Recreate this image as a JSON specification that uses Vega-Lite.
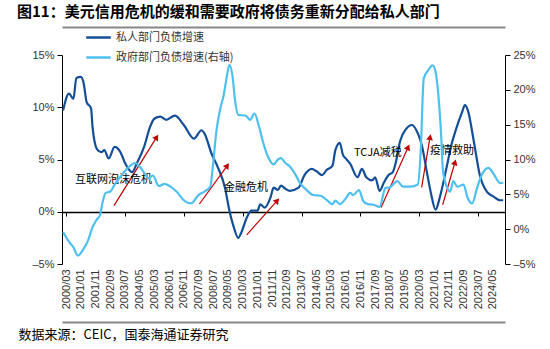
{
  "$schema": "https://vega.github.io/schema/vega-lite/v6.json",
  "width": 443,
  "height": 209,
  "autosize": {"type": "none"},
  "padding": {"left": 62, "top": 55, "right": 45, "bottom": 85},
  "background": "white",
  "title": {
    "text": "图11：美元信用危机的缓和需要政府将债务重新分配给私人部门",
    "anchor": "start",
    "frame": "group",
    "font": "Noto Sans CJK SC",
    "fontSize": 15,
    "fontWeight": "bold",
    "color": "#000000",
    "dx": -45,
    "offset": 4
  },
  "config": {
    "view": {"stroke": null},
    "axis": {
      "labelFont": "Liberation Sans",
      "labelFontSize": 11,
      "labelColor": "#333333",
      "grid": false,
      "domainColor": "#000000",
      "tickColor": "#000000",
      "labelOverlap": false
    }
  },
  "datasets": {
    "series": [
      {"d": "2000/01/01", "s": "私人部门负债增速", "v": 9.7},
      {"d": "2000/05/01", "s": "私人部门负债增速", "v": 11.3},
      {"d": "2000/08/01", "s": "私人部门负债增速", "v": 10.8},
      {"d": "2000/10/01", "s": "私人部门负债增速", "v": 12.8},
      {"d": "2001/01/01", "s": "私人部门负债增速", "v": 12.9},
      {"d": "2001/03/01", "s": "私人部门负债增速", "v": 12.3},
      {"d": "2001/05/01", "s": "私人部门负债增速", "v": 10.5},
      {"d": "2001/08/01", "s": "私人部门负债增速", "v": 9.9},
      {"d": "2001/09/01", "s": "私人部门负债增速", "v": 8.1},
      {"d": "2001/12/01", "s": "私人部门负债增速", "v": 6.0},
      {"d": "2002/03/01", "s": "私人部门负债增速", "v": 5.7},
      {"d": "2002/05/01", "s": "私人部门负债增速", "v": 5.9},
      {"d": "2002/08/01", "s": "私人部门负债增速", "v": 5.1},
      {"d": "2002/12/01", "s": "私人部门负债增速", "v": 6.2},
      {"d": "2003/04/01", "s": "私人部门负债增速", "v": 5.7},
      {"d": "2003/07/01", "s": "私人部门负债增速", "v": 4.7},
      {"d": "2003/12/01", "s": "私人部门负债增速", "v": 3.8},
      {"d": "2004/03/01", "s": "私人部门负债增速", "v": 4.6},
      {"d": "2004/08/01", "s": "私人部门负债增速", "v": 6.2},
      {"d": "2004/12/01", "s": "私人部门负债增速", "v": 8.1},
      {"d": "2005/03/01", "s": "私人部门负债增速", "v": 8.9},
      {"d": "2005/07/01", "s": "私人部门负债增速", "v": 9.1},
      {"d": "2005/11/01", "s": "私人部门负债增速", "v": 8.8},
      {"d": "2006/05/01", "s": "私人部门负债增速", "v": 9.2},
      {"d": "2006/11/01", "s": "私人部门负债增速", "v": 8.3},
      {"d": "2007/06/01", "s": "私人部门负债增速", "v": 7.0},
      {"d": "2007/11/01", "s": "私人部门负债增速", "v": 7.8},
      {"d": "2008/01/01", "s": "私人部门负债增速", "v": 7.5},
      {"d": "2008/06/01", "s": "私人部门负债增速", "v": 5.5},
      {"d": "2008/10/01", "s": "私人部门负债增速", "v": 4.3},
      {"d": "2009/03/01", "s": "私人部门负债增速", "v": 2.3},
      {"d": "2009/06/01", "s": "私人部门负债增速", "v": 0.1},
      {"d": "2009/09/01", "s": "私人部门负债增速", "v": -1.5},
      {"d": "2009/12/01", "s": "私人部门负债增速", "v": -2.5},
      {"d": "2010/02/01", "s": "私人部门负债增速", "v": -2.0},
      {"d": "2010/06/01", "s": "私人部门负债增速", "v": -0.5},
      {"d": "2010/09/01", "s": "私人部门负债增速", "v": 0.1},
      {"d": "2011/01/01", "s": "私人部门负债增速", "v": 0.1},
      {"d": "2011/03/01", "s": "私人部门负债增速", "v": 0.7},
      {"d": "2011/06/01", "s": "私人部门负债增速", "v": 0.4},
      {"d": "2011/10/01", "s": "私人部门负债增速", "v": 1.4},
      {"d": "2011/12/01", "s": "私人部门负债增速", "v": 2.3},
      {"d": "2012/03/01", "s": "私人部门负债增速", "v": 2.1},
      {"d": "2012/05/01", "s": "私人部门负债增速", "v": 2.5},
      {"d": "2012/08/01", "s": "私人部门负债增速", "v": 2.2},
      {"d": "2012/11/01", "s": "私人部门负债增速", "v": 2.0},
      {"d": "2013/05/01", "s": "私人部门负债增速", "v": 2.3},
      {"d": "2013/09/01", "s": "私人部门负债增速", "v": 3.5},
      {"d": "2014/02/01", "s": "私人部门负债增速", "v": 4.1},
      {"d": "2014/05/01", "s": "私人部门负债增速", "v": 3.9},
      {"d": "2014/09/01", "s": "私人部门负债增速", "v": 3.5},
      {"d": "2014/12/01", "s": "私人部门负债增速", "v": 4.0},
      {"d": "2015/04/01", "s": "私人部门负债增速", "v": 4.4},
      {"d": "2015/06/01", "s": "私人部门负债增速", "v": 5.9},
      {"d": "2015/09/01", "s": "私人部门负债增速", "v": 6.6},
      {"d": "2015/11/01", "s": "私人部门负债增速", "v": 5.5},
      {"d": "2016/01/01", "s": "私人部门负债增速", "v": 5.1},
      {"d": "2016/04/01", "s": "私人部门负债增速", "v": 4.6},
      {"d": "2016/09/01", "s": "私人部门负债增速", "v": 3.3},
      {"d": "2016/12/01", "s": "私人部门负债增速", "v": 4.1},
      {"d": "2017/03/01", "s": "私人部门负债增速", "v": 3.3},
      {"d": "2017/07/01", "s": "私人部门负债增速", "v": 3.0},
      {"d": "2017/09/01", "s": "私人部门负债增速", "v": 3.3},
      {"d": "2017/12/01", "s": "私人部门负债增速", "v": 2.0},
      {"d": "2018/03/01", "s": "私人部门负债增速", "v": 2.8},
      {"d": "2018/06/01", "s": "私人部门负债增速", "v": 3.5},
      {"d": "2018/09/01", "s": "私人部门负债增速", "v": 3.8},
      {"d": "2018/11/01", "s": "私人部门负债增速", "v": 4.7},
      {"d": "2019/02/01", "s": "私人部门负债增速", "v": 6.8},
      {"d": "2019/06/01", "s": "私人部门负债增速", "v": 7.9},
      {"d": "2019/10/01", "s": "私人部门负债增速", "v": 8.3},
      {"d": "2020/01/01", "s": "私人部门负债增速", "v": 7.8},
      {"d": "2020/05/01", "s": "私人部门负债增速", "v": 6.2},
      {"d": "2020/08/01", "s": "私人部门负债增速", "v": 3.9},
      {"d": "2020/11/01", "s": "私人部门负债增速", "v": 1.7},
      {"d": "2021/02/01", "s": "私人部门负债增速", "v": 0.2},
      {"d": "2021/05/01", "s": "私人部门负债增速", "v": 1.4},
      {"d": "2021/09/01", "s": "私人部门负债增速", "v": 3.9},
      {"d": "2022/01/01", "s": "私人部门负债增速", "v": 6.5},
      {"d": "2022/04/01", "s": "私人部门负债增速", "v": 7.9},
      {"d": "2022/08/01", "s": "私人部门负债增速", "v": 9.5},
      {"d": "2022/10/01", "s": "私人部门负债增速", "v": 10.2},
      {"d": "2022/12/01", "s": "私人部门负债增速", "v": 9.7},
      {"d": "2023/04/01", "s": "私人部门负债增速", "v": 6.8},
      {"d": "2023/08/01", "s": "私人部门负债增速", "v": 3.6},
      {"d": "2024/01/01", "s": "私人部门负债增速", "v": 1.9},
      {"d": "2024/05/01", "s": "私人部门负债增速", "v": 1.5},
      {"d": "2024/10/01", "s": "私人部门负债增速", "v": 1.1},
      {"d": "2024/12/01", "s": "私人部门负债增速", "v": 1.1},
      {"d": "2000/01/01", "s": "政府部门负债增速(右轴)", "v": -0.4},
      {"d": "2000/05/01", "s": "政府部门负债增速(右轴)", "v": -1.8},
      {"d": "2000/08/01", "s": "政府部门负债增速(右轴)", "v": -2.6},
      {"d": "2000/11/01", "s": "政府部门负债增速(右轴)", "v": -3.8},
      {"d": "2001/03/01", "s": "政府部门负债增速(右轴)", "v": -2.8},
      {"d": "2001/06/01", "s": "政府部门负债增速(右轴)", "v": -1.6},
      {"d": "2001/09/01", "s": "政府部门负债增速(右轴)", "v": 0.3},
      {"d": "2001/12/01", "s": "政府部门负债增速(右轴)", "v": 1.4},
      {"d": "2002/02/01", "s": "政府部门负债增速(右轴)", "v": 2.0},
      {"d": "2002/04/01", "s": "政府部门负债增速(右轴)", "v": 4.0},
      {"d": "2002/06/01", "s": "政府部门负债增速(右轴)", "v": 5.2},
      {"d": "2002/09/01", "s": "政府部门负债增速(右轴)", "v": 5.4},
      {"d": "2002/12/01", "s": "政府部门负债增速(右轴)", "v": 6.4},
      {"d": "2003/05/01", "s": "政府部门负债增速(右轴)", "v": 7.8},
      {"d": "2003/09/01", "s": "政府部门负债增速(右轴)", "v": 8.8},
      {"d": "2004/02/01", "s": "政府部门负债增速(右轴)", "v": 9.5},
      {"d": "2004/05/01", "s": "政府部门负债增速(右轴)", "v": 9.0},
      {"d": "2004/09/01", "s": "政府部门负债增速(右轴)", "v": 7.8},
      {"d": "2004/11/01", "s": "政府部门负债增速(右轴)", "v": 7.3},
      {"d": "2005/02/01", "s": "政府部门负债增速(右轴)", "v": 7.7},
      {"d": "2005/06/01", "s": "政府部门负债增速(右轴)", "v": 6.2},
      {"d": "2005/10/01", "s": "政府部门负债增速(右轴)", "v": 6.5},
      {"d": "2006/02/01", "s": "政府部门负债增速(右轴)", "v": 6.1},
      {"d": "2006/06/01", "s": "政府部门负债增速(右轴)", "v": 5.4},
      {"d": "2006/12/01", "s": "政府部门负债增速(右轴)", "v": 4.0},
      {"d": "2007/04/01", "s": "政府部门负债增速(右轴)", "v": 3.7},
      {"d": "2007/09/01", "s": "政府部门负债增速(右轴)", "v": 4.9},
      {"d": "2008/01/01", "s": "政府部门负债增速(右轴)", "v": 5.4},
      {"d": "2008/05/01", "s": "政府部门负债增速(右轴)", "v": 6.1},
      {"d": "2008/07/01", "s": "政府部门负债增速(右轴)", "v": 9.5},
      {"d": "2008/09/01", "s": "政府部门负债增速(右轴)", "v": 13.9},
      {"d": "2008/12/01", "s": "政府部门负债增速(右轴)", "v": 17.5},
      {"d": "2009/02/01", "s": "政府部门负债增速(右轴)", "v": 19.2},
      {"d": "2009/04/01", "s": "政府部门负债增速(右轴)", "v": 21.6},
      {"d": "2009/06/01", "s": "政府部门负债增速(右轴)", "v": 23.6},
      {"d": "2009/08/01", "s": "政府部门负债增速(右轴)", "v": 22.1},
      {"d": "2009/10/01", "s": "政府部门负债增速(右轴)", "v": 18.2},
      {"d": "2009/12/01", "s": "政府部门负债增速(右轴)", "v": 16.4},
      {"d": "2010/05/01", "s": "政府部门负债增速(右轴)", "v": 16.3},
      {"d": "2010/08/01", "s": "政府部门负债增速(右轴)", "v": 15.7},
      {"d": "2010/11/01", "s": "政府部门负债增速(右轴)", "v": 16.6},
      {"d": "2011/02/01", "s": "政府部门负债增速(右轴)", "v": 14.8},
      {"d": "2011/05/01", "s": "政府部门负债增速(右轴)", "v": 12.4},
      {"d": "2011/08/01", "s": "政府部门负债增速(右轴)", "v": 10.5},
      {"d": "2011/12/01", "s": "政府部门负债增速(右轴)", "v": 9.3},
      {"d": "2012/03/01", "s": "政府部门负债增速(右轴)", "v": 10.0},
      {"d": "2012/05/01", "s": "政府部门负债增速(右轴)", "v": 10.2},
      {"d": "2012/08/01", "s": "政府部门负债增速(右轴)", "v": 9.5},
      {"d": "2012/11/01", "s": "政府部门负债增速(右轴)", "v": 9.0},
      {"d": "2013/03/01", "s": "政府部门负债增速(右轴)", "v": 7.8},
      {"d": "2013/06/01", "s": "政府部门负债增速(右轴)", "v": 6.6},
      {"d": "2013/10/01", "s": "政府部门负债增速(右轴)", "v": 5.7},
      {"d": "2014/03/01", "s": "政府部门负债增速(右轴)", "v": 4.9},
      {"d": "2014/08/01", "s": "政府部门负债增速(右轴)", "v": 4.8},
      {"d": "2014/12/01", "s": "政府部门负债增速(右轴)", "v": 4.2},
      {"d": "2015/04/01", "s": "政府部门负债增速(右轴)", "v": 3.6},
      {"d": "2015/06/01", "s": "政府部门负债增速(右轴)", "v": 4.1},
      {"d": "2015/09/01", "s": "政府部门负债增速(右轴)", "v": 3.6},
      {"d": "2016/01/01", "s": "政府部门负债增速(右轴)", "v": 4.4},
      {"d": "2016/04/01", "s": "政府部门负债增速(右轴)", "v": 5.2},
      {"d": "2016/06/01", "s": "政府部门负债增速(右轴)", "v": 4.9},
      {"d": "2016/10/01", "s": "政府部门负债增速(右轴)", "v": 5.6},
      {"d": "2017/01/01", "s": "政府部门负债增速(右轴)", "v": 4.0},
      {"d": "2017/04/01", "s": "政府部门负债增速(右轴)", "v": 3.6},
      {"d": "2017/08/01", "s": "政府部门负债增速(右轴)", "v": 3.5},
      {"d": "2017/12/01", "s": "政府部门负债增速(右轴)", "v": 3.2},
      {"d": "2018/04/01", "s": "政府部门负债增速(右轴)", "v": 5.9},
      {"d": "2018/07/01", "s": "政府部门负债增速(右轴)", "v": 6.0},
      {"d": "2018/12/01", "s": "政府部门负债增速(右轴)", "v": 6.9},
      {"d": "2019/04/01", "s": "政府部门负债增速(右轴)", "v": 6.1},
      {"d": "2019/09/01", "s": "政府部门负债增速(右轴)", "v": 6.1},
      {"d": "2020/02/01", "s": "政府部门负债增速(右轴)", "v": 6.4},
      {"d": "2020/04/01", "s": "政府部门负债增速(右轴)", "v": 11.4},
      {"d": "2020/06/01", "s": "政府部门负债增速(右轴)", "v": 21.6},
      {"d": "2020/09/01", "s": "政府部门负债增速(右轴)", "v": 22.8},
      {"d": "2020/12/01", "s": "政府部门负债增速(右轴)", "v": 23.5},
      {"d": "2021/02/01", "s": "政府部门负债增速(右轴)", "v": 22.6},
      {"d": "2021/04/01", "s": "政府部门负债增速(右轴)", "v": 19.2},
      {"d": "2021/06/01", "s": "政府部门负债增速(右轴)", "v": 12.9},
      {"d": "2021/07/01", "s": "政府部门负债增速(右轴)", "v": 8.6},
      {"d": "2021/10/01", "s": "政府部门负债增速(右轴)", "v": 5.9},
      {"d": "2021/12/01", "s": "政府部门负债增速(右轴)", "v": 5.4},
      {"d": "2022/02/01", "s": "政府部门负债增速(右轴)", "v": 6.9},
      {"d": "2022/05/01", "s": "政府部门负债增速(右轴)", "v": 6.1},
      {"d": "2022/09/01", "s": "政府部门负债增速(右轴)", "v": 6.4},
      {"d": "2022/12/01", "s": "政府部门负债增速(右轴)", "v": 4.4},
      {"d": "2023/03/01", "s": "政府部门负债增速(右轴)", "v": 3.7},
      {"d": "2023/06/01", "s": "政府部门负债增速(右轴)", "v": 5.7},
      {"d": "2023/09/01", "s": "政府部门负债增速(右轴)", "v": 7.6},
      {"d": "2024/02/01", "s": "政府部门负债增速(右轴)", "v": 8.8},
      {"d": "2024/05/01", "s": "政府部门负债增速(右轴)", "v": 8.1},
      {"d": "2024/10/01", "s": "政府部门负债增速(右轴)", "v": 6.6},
      {"d": "2024/12/01", "s": "政府部门负债增速(右轴)", "v": 6.7}
    ],
    "arrows": [
      {"d": "2002/11/19", "v": 0.58, "d2": "2005/04/19", "v2": 7.14},
      {"d": "2007/09/19", "v": 0.74, "d2": "2009/04/19", "v2": 4.42},
      {"d": "2010/05/25", "v": -2.21, "d2": "2012/02/15", "v2": 1.06},
      {"d": "2018/01/01", "v": 0.41, "d2": "2019/07/15", "v2": 6.18},
      {"d": "2020/04/19", "v": 2.34, "d2": "2020/10/10", "v2": 7.14},
      {"d": "2021/06/28", "v": 0.67, "d2": "2022/03/10", "v2": 4.74}
    ],
    "notes": [
      {"d": "2000/09/03", "v": 3.0, "t": "互联网泡沫危机"},
      {"d": "2009/02/10", "v": 2.3, "t": "金融危机"},
      {"d": "2016/06/20", "v": 5.6, "t": "TCJA减税"},
      {"d": "2020/10/10", "v": 5.8, "t": "疫情救助"}
    ]
  },
  "layer": [
    {
      "layer": [
        {
          "data": {"name": "series"},
          "transform": [{"filter": "datum.s === '私人部门负债增速'"}],
          "mark": {"type": "line", "interpolate": "monotone", "strokeWidth": 2.2},
          "encoding": {
            "x": {
              "field": "d",
              "type": "temporal",
              "scale": {"domain": [{"year": 1999, "month": 12, "date": 9}, {"year": 2025, "month": 1, "date": 7}], "nice": false},
              "axis": {
                "orient": "bottom",
                "offset": -52,
                "title": null,
                "labels": false,
                "ticks": true,
                "tickSize": 4,
                "domain": true,
                "domainWidth": 1.5,
                "values": [
                  {"year": 2000, "month": 3, "date": 1}, {"year": 2001, "month": 1, "date": 1}, {"year": 2001, "month": 11, "date": 1},
                  {"year": 2002, "month": 9, "date": 1}, {"year": 2003, "month": 7, "date": 1}, {"year": 2004, "month": 5, "date": 1},
                  {"year": 2005, "month": 3, "date": 1}, {"year": 2006, "month": 1, "date": 1}, {"year": 2006, "month": 11, "date": 1},
                  {"year": 2007, "month": 9, "date": 1}, {"year": 2008, "month": 7, "date": 1}, {"year": 2009, "month": 5, "date": 1},
                  {"year": 2010, "month": 3, "date": 1}, {"year": 2011, "month": 1, "date": 1}, {"year": 2011, "month": 11, "date": 1},
                  {"year": 2012, "month": 9, "date": 1}, {"year": 2013, "month": 7, "date": 1}, {"year": 2014, "month": 5, "date": 1},
                  {"year": 2015, "month": 3, "date": 1}, {"year": 2016, "month": 1, "date": 1}, {"year": 2016, "month": 11, "date": 1},
                  {"year": 2017, "month": 9, "date": 1}, {"year": 2018, "month": 7, "date": 1}, {"year": 2019, "month": 5, "date": 1},
                  {"year": 2020, "month": 3, "date": 1}, {"year": 2021, "month": 1, "date": 1}, {"year": 2021, "month": 11, "date": 1},
                  {"year": 2022, "month": 9, "date": 1}, {"year": 2023, "month": 7, "date": 1}, {"year": 2024, "month": 5, "date": 1}
                ]
              }
            },
            "y": {
              "field": "v",
              "type": "quantitative",
              "scale": {"domain": [-5, 15], "nice": false, "zero": false},
              "axis": {
                "orient": "left",
                "title": null,
                "values": [-5, 0, 5, 10, 15],
                "labelExpr": "(datum.value < 0 ? '–' : '') + abs(datum.value) + '%'",
                "tickSize": 5,
                "labelPadding": 3
              }
            },
            "color": {
              "field": "s",
              "type": "nominal",
              "scale": {"domain": ["私人部门负债增速", "政府部门负债增速(右轴)"], "range": ["#134E96", "#4EC0F0"]},
              "legend": {
                "orient": "none",
                "legendX": 23,
                "legendY": -31,
                "direction": "vertical",
                "title": null,
                "symbolType": "stroke",
                "symbolSize": 600,
                "symbolStrokeWidth": 2.5,
                "labelFont": "Noto Sans CJK SC",
                "labelFontSize": 11,
                "labelColor": "#333333",
                "rowPadding": 1
              }
            }
          }
        },
        {
          "data": {"name": "arrows"},
          "mark": {"type": "rule", "color": "#C00000", "strokeWidth": 1.2},
          "encoding": {
            "x": {"field": "d", "type": "temporal"},
            "x2": {"field": "d2"},
            "y": {"field": "v", "type": "quantitative"},
            "y2": {"field": "v2"}
          }
        },
        {
          "data": {"name": "arrows"},
          "transform": [
            {"calculate": "atan2((toDate(datum.d2) - toDate(datum.d)) / 2629800000 * 1.472, (datum.v2 - datum.v) * 10.45) * 180 / PI", "as": "ang"},
            {"calculate": "datum.d2", "as": "d"},
            {"calculate": "datum.v2", "as": "v"}
          ],
          "mark": {"type": "point", "shape": "triangle-up", "filled": true, "color": "#C00000", "opacity": 1, "size": 45},
          "encoding": {
            "x": {"field": "d", "type": "temporal"},
            "y": {"field": "v", "type": "quantitative"},
            "angle": {"field": "ang", "type": "quantitative", "scale": null}
          }
        },
        {
          "data": {"name": "notes"},
          "mark": {"type": "text", "align": "left", "baseline": "middle", "font": "Noto Sans CJK SC", "fontSize": 11, "color": "#000000"},
          "encoding": {
            "x": {"field": "d", "type": "temporal"},
            "y": {"field": "v", "type": "quantitative"},
            "text": {"field": "t"}
          }
        }
      ]
    },
    {
      "data": {"name": "series"},
      "transform": [{"filter": "datum.s === '政府部门负债增速(右轴)'"}],
      "mark": {"type": "line", "interpolate": "monotone", "strokeWidth": 2.2},
      "encoding": {
        "x": {
          "field": "d",
          "type": "temporal",
          "axis": {
            "orient": "bottom",
            "title": "数据来源：CEIC，国泰海通证券研究",
            "titleFont": "Noto Sans CJK SC",
            "titleFontSize": 13,
            "titleFontWeight": "normal",
            "titleColor": "#000000",
            "titleAnchor": "start",
            "titleAlign": "left",
            "titleBaseline": "middle",
            "titleX": -44,
            "titleY": 70,
            "format": "%Y/%m",
            "labelAngle": -90,
            "labelPadding": 5,
            "domain": false,
            "ticks": false,
            "labelOverlap": false,
            "labelFlush": false,
            "labelBound": false,
            "values": [
              {"year": 2000, "month": 3, "date": 1}, {"year": 2001, "month": 1, "date": 1}, {"year": 2001, "month": 11, "date": 1},
              {"year": 2002, "month": 9, "date": 1}, {"year": 2003, "month": 7, "date": 1}, {"year": 2004, "month": 5, "date": 1},
              {"year": 2005, "month": 3, "date": 1}, {"year": 2006, "month": 1, "date": 1}, {"year": 2006, "month": 11, "date": 1},
              {"year": 2007, "month": 9, "date": 1}, {"year": 2008, "month": 7, "date": 1}, {"year": 2009, "month": 5, "date": 1},
              {"year": 2010, "month": 3, "date": 1}, {"year": 2011, "month": 1, "date": 1}, {"year": 2011, "month": 11, "date": 1},
              {"year": 2012, "month": 9, "date": 1}, {"year": 2013, "month": 7, "date": 1}, {"year": 2014, "month": 5, "date": 1},
              {"year": 2015, "month": 3, "date": 1}, {"year": 2016, "month": 1, "date": 1}, {"year": 2016, "month": 11, "date": 1},
              {"year": 2017, "month": 9, "date": 1}, {"year": 2018, "month": 7, "date": 1}, {"year": 2019, "month": 5, "date": 1},
              {"year": 2020, "month": 3, "date": 1}, {"year": 2021, "month": 1, "date": 1}, {"year": 2021, "month": 11, "date": 1},
              {"year": 2022, "month": 9, "date": 1}, {"year": 2023, "month": 7, "date": 1}, {"year": 2024, "month": 5, "date": 1}
            ]
          }
        },
        "y": {
          "field": "v",
          "type": "quantitative",
          "scale": {"domain": [-5, 25], "nice": false, "zero": false},
          "axis": {
            "orient": "right",
            "title": null,
            "values": [-5, 0, 5, 10, 15, 20, 25],
            "labelExpr": "(datum.value < 0 ? '–' : '') + abs(datum.value) + '%'",
            "tickSize": 5,
            "labelPadding": 3
          }
        },
        "color": {"field": "s", "type": "nominal"}
      }
    },
    {
      "data": {"name": "notes"},
      "mark": {"type": "point", "opacity": 0},
      "encoding": {
        "x": {
          "field": "d",
          "type": "temporal",
          "axis": {"orient": "top", "offset": 28, "title": null, "labels": false, "ticks": false, "domain": true, "domainColor": "#888888", "domainWidth": 2}
        }
      }
    },
    {
      "data": {"name": "notes"},
      "mark": {"type": "point", "opacity": 0},
      "encoding": {
        "x": {
          "field": "d",
          "type": "temporal",
          "axis": {"orient": "bottom", "offset": 58, "title": null, "labels": false, "ticks": false, "domain": true, "domainColor": "#888888", "domainWidth": 2}
        }
      }
    }
  ],
  "resolve": {"scale": {"y": "independent"}, "axis": {"x": "independent", "y": "independent"}}
}
